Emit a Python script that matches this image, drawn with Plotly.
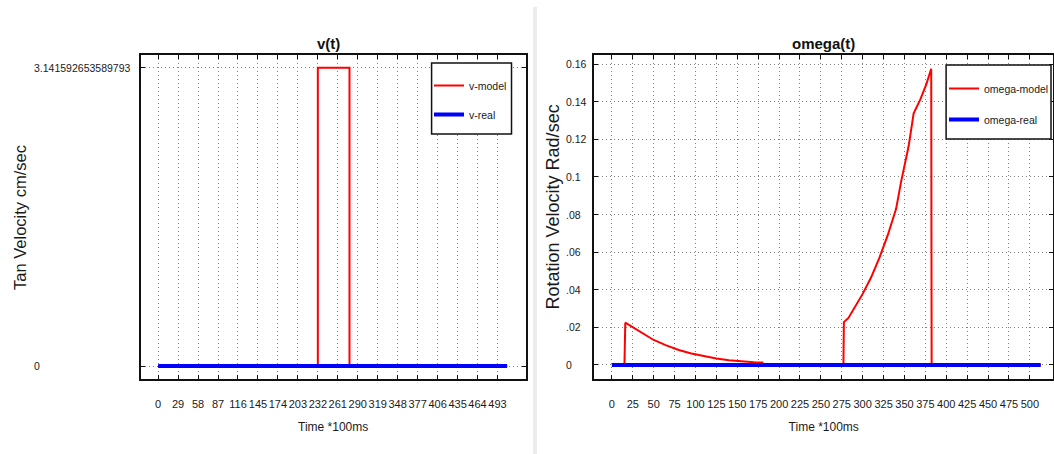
import math
import plotly.graph_objects as go

# ---------------- data ----------------
PI = math.pi
v_model_t = [0, 232, 232, 278, 278, 507]
v_model_v = [0, 0, PI, PI, 0, 0]
v_real_t = [0, 507]
v_real_v = [0, 0]

omega_model_t = [0, 15, 16, 25, 35, 50, 65, 80, 95, 110, 125, 140, 155, 170, 180, 180.5,
                 277, 277.5, 283, 290, 300, 310, 320, 330, 340, 346, 355, 361, 369, 376, 382, 382.5, 513]
omega_model_v = [0, 0, 0.0225, 0.0200, 0.0170, 0.0133, 0.0104, 0.0080, 0.0061, 0.0046, 0.0034, 0.0025,
                 0.0019, 0.0015, 0.0013, 0,
                 0, 0.0228, 0.0250, 0.0300, 0.0378, 0.0465, 0.0570, 0.0690, 0.0830, 0.0975, 0.1164, 0.1338,
                 0.1412, 0.1490, 0.1575, 0, 0]
omega_real_t = [0, 513]
omega_real_v = [0, 0]

left_xticks = list(range(0, 494, 29))
right_xticks = list(range(0, 501, 25))
left_yticks = [0, PI]
left_yticklabels = ["0", "3.141592653589793"]
right_yticks = [0, 0.02, 0.04, 0.06, 0.08, 0.10, 0.12, 0.14, 0.16]
right_yticklabels = ["0", ".02", ".04", ".06", ".08", "0.1", "0.12", "0.14", "0.16"]

# ---------------- style ----------------
W, H = 1054, 454
FONT = "Liberation Sans, Arial, sans-serif"
RED = "rgb(255,0,0)"
BLUE = "rgb(0,0,255)"
TXT = "#1a1a1a"


def px(x):
    return x / W


def py(y):
    return 1 - y / H


fig = go.Figure()
fig.add_trace(go.Scatter(x=v_model_t, y=v_model_v, mode="lines", name="v-model",
                         line=dict(color=RED, width=2), xaxis="x", yaxis="y",
                         legend="legend", legendgroup="a"))
fig.add_trace(go.Scatter(x=v_real_t, y=v_real_v, mode="lines", name="v-real",
                         line=dict(color=BLUE, width=4), xaxis="x", yaxis="y",
                         legend="legend", legendgroup="b"))
fig.add_trace(go.Scatter(x=omega_model_t, y=omega_model_v, mode="lines", name="omega-model",
                         line=dict(color=RED, width=2), xaxis="x2", yaxis="y2",
                         legend="legend2", legendgroup="c"))
fig.add_trace(go.Scatter(x=omega_real_t, y=omega_real_v, mode="lines", name="omega-real",
                         line=dict(color=BLUE, width=4), xaxis="x2", yaxis="y2",
                         legend="legend2", legendgroup="d"))

common_axis = dict(
    showline=True, linecolor="#111", linewidth=1.5, mirror="ticks",
    ticks="inside", ticklen=4, tickcolor="#111",
    showgrid=True, gridcolor="#808080", griddash="1px,3px", gridwidth=1,
    zeroline=False,
)
ydom = [py(378.5), py(55)]
tickfont = dict(family=FONT, size=11, color=TXT)
titlefont = dict(family=FONT, size=12, color=TXT)
legfont = dict(family=FONT, size=10.5, color=TXT)

fig.update_layout(
    width=W, height=H, autosize=False,
    margin=dict(l=0, r=0, t=0, b=0),
    paper_bgcolor="white", plot_bgcolor="white",
    showlegend=True,
    xaxis=dict(common_axis, domain=[px(141), px(526)], range=[-25.1, 533.7],
               tickvals=left_xticks, tickfont=tickfont, tickangle=0,
               ticklabelstandoff=15, anchor="y",
               title=dict(text="Time *100ms", font=titlefont, standoff=13)),
    yaxis=dict(common_axis, domain=ydom, range=[-0.1316, 3.2754], tickvals=left_yticks,
               showticklabels=False, anchor="x"),
    xaxis2=dict(common_axis, domain=[px(595), 1.0], range=[-20.9, 527.7],
                tickvals=right_xticks, tickfont=tickfont, tickangle=0,
                ticklabelstandoff=15, anchor="y2",
                title=dict(text="Time *100ms", font=titlefont, standoff=13)),
    yaxis2=dict(common_axis, domain=ydom, range=[-0.00718, 0.1648], tickvals=right_yticks,
                showticklabels=False, anchor="x2"),
    legend=dict(x=px(429), y=py(71), xanchor="left", yanchor="top",
                bgcolor="rgba(0,0,0,0)", borderwidth=0, font=legfont,
                traceorder="grouped", tracegroupgap=10),
    legend2=dict(x=px(945), y=py(74), xanchor="left", yanchor="top",
                 bgcolor="rgba(0,0,0,0)", borderwidth=0, font=legfont,
                 traceorder="grouped", tracegroupgap=12),
)

# legend frames
fig.add_shape(type="rect", xref="paper", yref="paper", x0=px(432), x1=px(512), y0=py(134), y1=py(63),
              line=dict(color="#111", width=1.5), fillcolor="white", layer="above")
fig.add_shape(type="rect", xref="paper", yref="paper", x0=px(947), x1=px(1052), y0=py(139), y1=py(65),
              line=dict(color="#111", width=1.5), fillcolor="white", layer="above")

annotations = []
# y tick labels (left aligned, as in the reference)
for v, t in zip(left_yticks, left_yticklabels):
    annotations.append(dict(x=px(32), y=v, xref="paper", yref="y", text=t, showarrow=False,
                            xanchor="left", yanchor="middle",
                            font=dict(family=FONT, size=10.5, color=TXT)))
for v, t in zip(right_yticks, right_yticklabels):
    annotations.append(dict(x=px(565), y=v, xref="paper", yref="y2", text=t, showarrow=False,
                            xanchor="left", yanchor="middle",
                            font=dict(family=FONT, size=10.5, color=TXT)))
# titles
annotations.append(dict(x=px(329), y=py(43.5), xref="paper", yref="paper", text="<b>v(t)</b>",
                        showarrow=False, xanchor="center", yanchor="middle",
                        font=dict(family=FONT, size=15, color="#111")))
annotations.append(dict(x=px(824), y=py(43.5), xref="paper", yref="paper", text="<b>omega(t)</b>",
                        showarrow=False, xanchor="center", yanchor="middle",
                        font=dict(family=FONT, size=15, color="#111")))
# y axis titles
annotations.append(dict(x=px(20), y=py(217), xref="paper", yref="paper", text="Tan Velocity cm/sec",
                        showarrow=False, textangle=-90, xanchor="center", yanchor="middle",
                        font=dict(family=FONT, size=16.5, color=TXT)))
annotations.append(dict(x=px(554), y=py(207), xref="paper", yref="paper", text="Rotation Velocity Rad/sec",
                        showarrow=False, textangle=-90, xanchor="center", yanchor="middle",
                        font=dict(family=FONT, size=18, color=TXT)))
fig.update_layout(annotations=annotations)

# light separator between the two panels
fig.add_shape(type="line", xref="paper", yref="paper", x0=px(535.5), x1=px(535.5), y0=0, y1=py(7),
              line=dict(color="#ececec", width=4))

fig.write_html("out.html", config={"displayModeBar": False},
               post_script="document.body.style.margin='0';document.body.style.overflow='hidden';")
